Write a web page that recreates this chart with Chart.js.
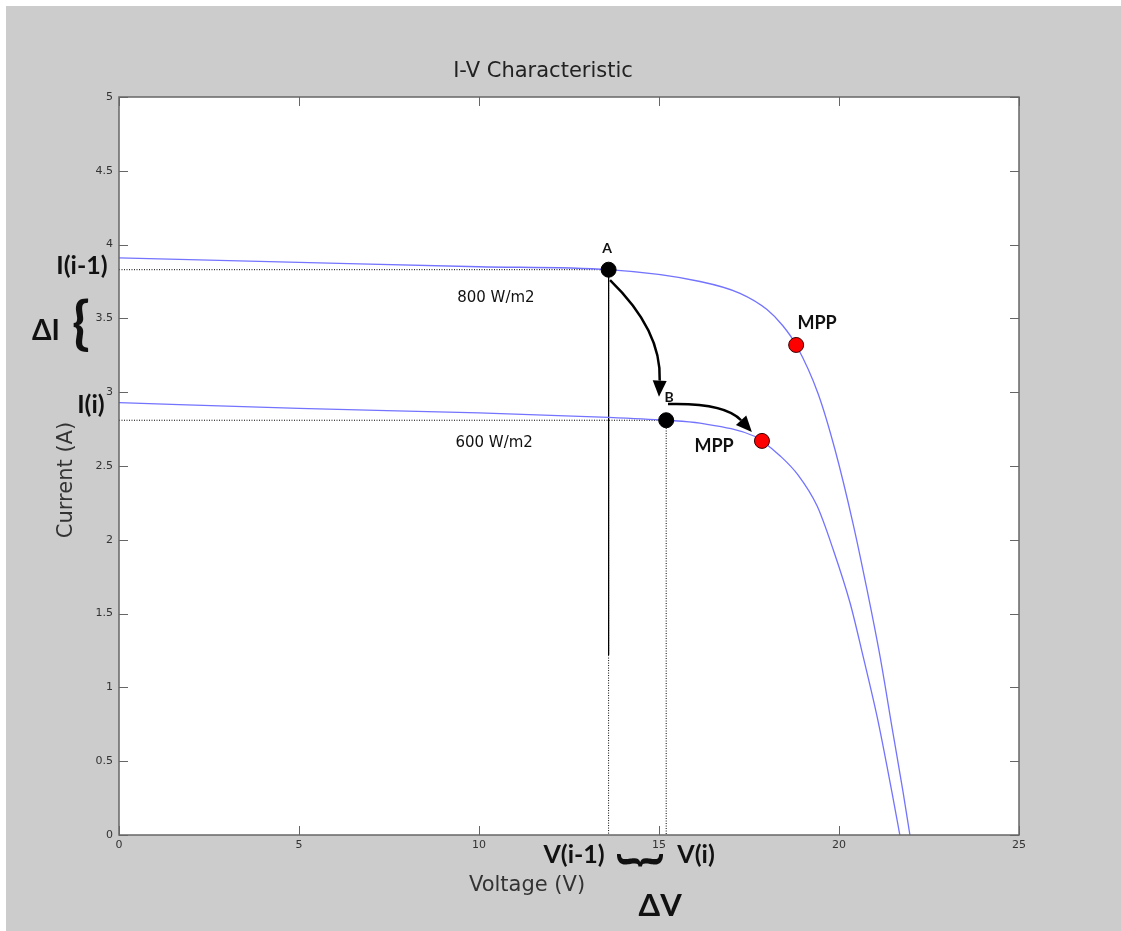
<!DOCTYPE html>
<html>
<head>
<meta charset="utf-8">
<script src="https://cdn.jsdelivr.net/npm/chart.js@4"></script>
<style>
  html, body { margin: 0; padding: 0; background: #fff; }
  #wrap { width: 1121px; height: 931px; }
</style>
</head>
<body>
<div id="wrap"><canvas id="myChart" width="1121" height="931"></canvas></div>
<script>
// curves (voltage V, current A)
const v800 = [0, 5, 10, 13.6, 16.14, 17.25, 18.0, 18.44, 18.81, 19.42, 19.89, 20.39, 20.78, 21.14, 21.5, 21.78, 21.97];
const i800 = [3.91, 3.88, 3.85, 3.83, 3.75, 3.67, 3.56, 3.45, 3.32, 2.99, 2.61, 2.11, 1.66, 1.21, 0.69, 0.29, 0];
const v600 = [0, 5, 10, 13.6, 15.19, 16.14, 17.67, 17.86, 18.36, 18.86, 19.39, 19.83, 20.31, 20.67, 21.06, 21.33, 21.47, 21.69];
const i600 = [2.93, 2.89, 2.86, 2.83, 2.81, 2.79, 2.70, 2.67, 2.57, 2.44, 2.23, 1.94, 1.57, 1.21, 0.80, 0.47, 0.29, 0];

// operating points
const ptA = [13.6, 3.83];
const ptB = [15.2, 2.81];
const mpp800 = [18.81, 3.32];
const mpp600 = [17.86, 2.67];

const xTicks = [0, 5, 10, 15, 20, 25];
const yTicks = [0, 0.5, 1, 1.5, 2, 2.5, 3, 3.5, 4, 4.5, 5];

// annotations: [text, V, I, font, rotate]
const notes = [
  ['A', 13.56, 3.977, 'bold 14px Lato', 0],
  ['B', 15.28, 2.967, 'bold 14px Lato', 0],
  ['MPP', 19.39, 3.469, 'bold 18px Lato', 0],
  ['MPP', 16.53, 2.635, 'bold 18px Lato', 0],
  ['800 W/m2', 10.47, 3.638, '15px "DejaVu Sans"', 0],
  ['600 W/m2', 10.42, 2.656, '15px "DejaVu Sans"', 0],
  ['I(i-1)', -1.03, 3.855, 'bold 25px Lato', 0],
  ['ΔI', -2.03, 3.415, 'bold 28px Lato', 0],
  ['{', -1.06, 3.46, 'bold 58px Lato', 0],
  ['I(i)', -0.78, 2.913, 'bold 25px Lato', 0],
  ['V(i-1)', 12.64, -0.135, 'bold 25px Lato', 0],
  ['}', 14.5, -0.17, 'bold 50px Lato', 1],
  ['V(i)', 16.03, -0.135, 'bold 25px Lato', 0],
  ['ΔV', 15.03, -0.481, 'bold 31px Lato', 0]
];

// curved arrows: start, control, tip (V, I)
const arrows = [
  [[13.64, 3.76], [15.08, 3.42], [15.0, 2.97]],
  [[15.25, 2.92], [16.83, 2.93], [17.58, 2.73]]
];

function pts(xs, ys) {
  return xs.map((x, k) => ({x: x, y: ys[k]}));
}

const figure = {
  id: 'figure',
  beforeDraw(chart) {
    const c = chart.ctx, a = chart.chartArea;
    c.save();
    c.fillStyle = '#fff';
    c.fillRect(0, 0, chart.width, chart.height);
    c.fillStyle = '#cccccc';
    c.fillRect(6, 6, chart.width - 6, chart.height - 6);
    c.fillStyle = '#fff';
    c.fillRect(a.left, a.top, a.right - a.left, a.bottom - a.top);
    c.restore();
  },
  afterDraw(chart) {
    const c = chart.ctx, a = chart.chartArea;
    const xs = chart.scales.x, ys = chart.scales.y;
    c.save();
    // box and inward ticks
    c.strokeStyle = '#666';
    c.lineWidth = 1.5;
    c.strokeRect(a.left, a.top, a.right - a.left, a.bottom - a.top);
    c.lineWidth = 1;
    c.beginPath();
    xs.ticks.forEach(t => {
      const px = Math.round(xs.getPixelForValue(t.value)) + 0.5;
      c.moveTo(px, a.bottom); c.lineTo(px, a.bottom - 9);
      c.moveTo(px, a.top); c.lineTo(px, a.top + 9);
    });
    ys.ticks.forEach(t => {
      const py = Math.round(ys.getPixelForValue(t.value)) + 0.5;
      c.moveTo(a.left, py); c.lineTo(a.left + 9, py);
      c.moveTo(a.right, py); c.lineTo(a.right - 9, py);
    });
    c.stroke();

    // title and axis titles
    c.fillStyle = '#222';
    c.textAlign = 'center';
    c.textBaseline = 'middle';
    c.font = '21px "DejaVu Sans"';
    c.fillText('I-V Characteristic', 543, 72);
    c.fillStyle = '#333';
    c.fillText('Voltage (V)', 527, 886);
    c.save();
    c.translate(67, 480);
    c.rotate(-Math.PI / 2);
    c.fillText('Current (A)', 0, 0);
    c.restore();

    // arrows
    c.strokeStyle = '#000';
    c.fillStyle = '#000';
    c.lineWidth = 2.5;
    arrows.forEach(ar => {
      const p = ar.map(q => [xs.getPixelForValue(q[0]), ys.getPixelForValue(q[1])]);
      const ang = Math.atan2(p[2][1] - p[1][1], p[2][0] - p[1][0]);
      const len = 16, wid = 7;
      const bx = p[2][0] - len * Math.cos(ang), by = p[2][1] - len * Math.sin(ang);
      c.beginPath();
      c.moveTo(p[0][0], p[0][1]);
      c.quadraticCurveTo(p[1][0], p[1][1], bx, by);
      c.stroke();
      c.beginPath();
      c.moveTo(p[2][0], p[2][1]);
      c.lineTo(bx + wid * Math.sin(ang), by - wid * Math.cos(ang));
      c.lineTo(bx - wid * Math.sin(ang), by + wid * Math.cos(ang));
      c.closePath();
      c.fill();
    });

    // labels
    c.fillStyle = '#111';
    notes.forEach(n => {
      const px = xs.getPixelForValue(n[1]), py = ys.getPixelForValue(n[2]);
      c.font = n[3];
      c.save();
      c.translate(px, py);
      if (n[4]) c.rotate(Math.PI / 2);
      c.fillText(n[0], 0, 0);
      c.restore();
    });
    c.restore();
  }
};

const ctx = document.querySelector('#myChart').getContext('2d');
const myChart = new Chart(ctx, {
  type: 'scatter',
  data: {
    datasets: [
      {
        data: [{x: ptA[0], y: ptA[1]}, {x: ptB[0], y: ptB[1]}],
        pointRadius: 7.5, pointBackgroundColor: '#000', pointBorderColor: '#000', showLine: false
      },
      {
        data: [{x: mpp800[0], y: mpp800[1]}, {x: mpp600[0], y: mpp600[1]}],
        pointRadius: 7.5, pointBackgroundColor: '#ff0000', pointBorderColor: '#3a0000', pointBorderWidth: 1, showLine: false
      },
      {
        data: pts(v800, i800),
        showLine: true, pointRadius: 0, borderColor: 'rgb(115,115,255)', borderWidth: 1.3,
        cubicInterpolationMode: 'monotone'
      },
      {
        data: pts(v600, i600),
        showLine: true, pointRadius: 0, borderColor: 'rgb(115,115,255)', borderWidth: 1.3,
        cubicInterpolationMode: 'monotone'
      },
      // guide lines from the points to the axes
      {
        data: [{x: 0, y: ptA[1]}, {x: ptA[0], y: ptA[1]}, {x: ptA[0], y: 0}],
        showLine: true, pointRadius: 0, borderColor: '#000', borderWidth: 1, borderDash: [1, 1.5]
      },
      {
        data: [{x: ptA[0], y: ptA[1]}, {x: ptA[0], y: 1.22}],
        showLine: true, pointRadius: 0, borderColor: '#000', borderWidth: 1
      },
      {
        data: [{x: 0, y: ptB[1]}, {x: ptB[0], y: ptB[1]}, {x: ptB[0], y: 0}],
        showLine: true, pointRadius: 0, borderColor: '#000', borderWidth: 1, borderDash: [1, 1.5]
      }
    ]
  },
  options: {
    responsive: false,
    animation: false,
    layout: { padding: { top: 97, right: 102, left: 0, bottom: 0 } },
    plugins: {
      legend: { display: false },
      tooltip: { enabled: false },
      title: { display: false }
    },
    scales: {
      x: {
        type: 'linear', min: 0, max: 25,
        afterBuildTicks: s => { s.ticks = xTicks.map(v => ({value: v})); },
        afterFit: s => { s.height = 96; },
        grid: { display: false, drawTicks: false },
        border: { display: false },
        ticks: { color: '#333', padding: 4, font: { family: 'DejaVu Sans', size: 11 }, maxRotation: 0,
                 callback: v => String(v) }
      },
      y: {
        type: 'linear', min: 0, max: 5,
        afterBuildTicks: s => { s.ticks = yTicks.map(v => ({value: v})); },
        afterFit: s => { s.width = 119; },
        grid: { display: false, drawTicks: false },
        border: { display: false },
        ticks: { color: '#333', padding: 6, font: { family: 'DejaVu Sans', size: 11 },
                 callback: v => String(v) }
      }
    }
  },
  plugins: [figure]
});
</script>
</body>
</html>
